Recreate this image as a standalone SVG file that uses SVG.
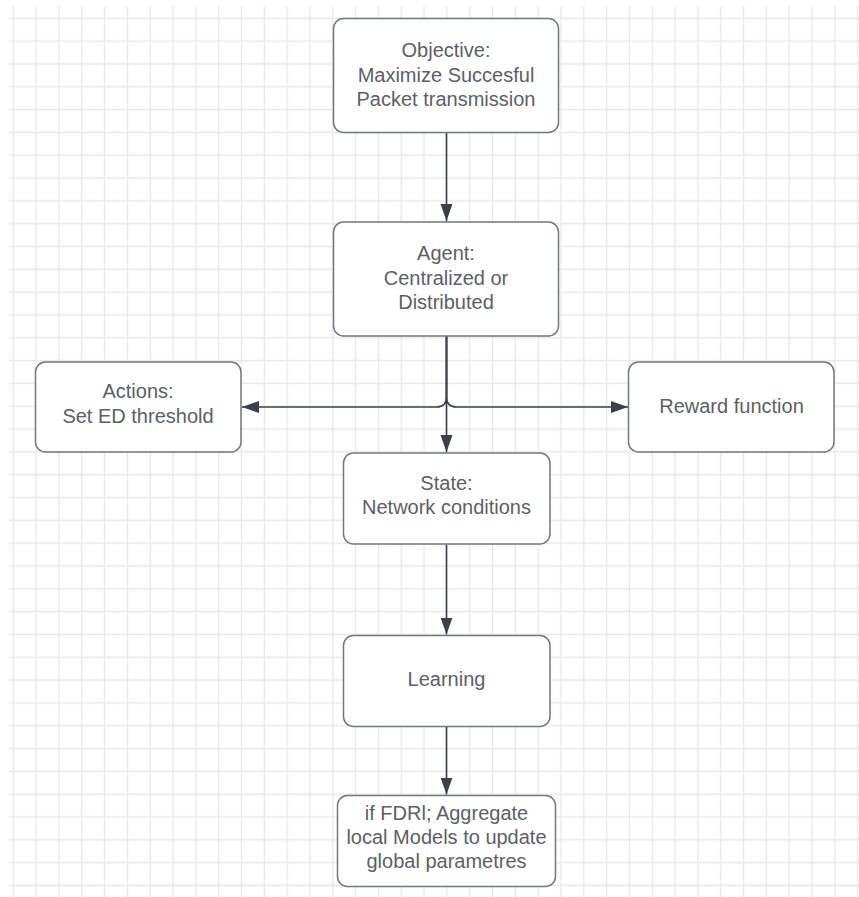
<svg xmlns="http://www.w3.org/2000/svg" width="859" height="897" viewBox="0 0 859 897">
  <style>
    .box { fill: #ffffff; stroke: #72777f; stroke-width: 1.5; }
    .label { font-family: "Liberation Sans", Arial, sans-serif; font-size: 20px; fill: #5b6069; text-anchor: middle; }
    .wire { fill: none; stroke: #3a414a; stroke-width: 1.6; }
  </style>
  <defs>
    <pattern id="grid" patternUnits="userSpaceOnUse" x="1.89" y="6.89" width="22.82" height="22.82">
      <path d="M11.41 0 V22.82 M0 11.41 H22.82" stroke="#e8e8e8" stroke-width="1.4" fill="none"/>
    </pattern>
    <marker id="arrow" markerUnits="userSpaceOnUse" markerWidth="18" markerHeight="13" refX="17" refY="6" orient="auto">
      <path d="M0 0 L17 6 L0 12 Z" fill="#3a414a"/>
    </marker>
  </defs>

  <!-- background and grid -->
  <rect x="0" y="0" width="859" height="897" fill="#ffffff"/>
  <rect x="9" y="6" width="850" height="891" fill="url(#grid)"/>

  <!-- connectors -->
  <g id="connectors">
    <path class="wire" d="M446.5 133 V221" marker-end="url(#arrow)"/>
    <path class="wire" d="M446.5 336 V452" marker-end="url(#arrow)"/>
    <path class="wire" d="M446.5 336 V397 Q446.5 407 436.5 407 H242" marker-end="url(#arrow)"/>
    <path class="wire" d="M446.5 336 V397 Q446.5 407 456.5 407 H628" marker-end="url(#arrow)"/>
    <path class="wire" d="M446.5 544.5 V634.5" marker-end="url(#arrow)"/>
    <path class="wire" d="M446.5 727 V794.5" marker-end="url(#arrow)"/>
  </g>

  <!-- nodes -->
  <g id="objective">
    <rect class="box" x="333.5" y="18.5" width="225" height="114" rx="10"/>
    <text class="label" x="446" y="56.7">Objective:</text>
    <text class="label" x="446" y="81.7">Maximize Succesful</text>
    <text class="label" x="446" y="106">Packet transmission</text>
  </g>

  <g id="agent">
    <rect class="box" x="333.5" y="222" width="225" height="114" rx="10"/>
    <text class="label" x="446" y="260">Agent:</text>
    <text class="label" x="446" y="284.5">Centralized or</text>
    <text class="label" x="446" y="308.5">Distributed</text>
  </g>

  <g id="actions">
    <rect class="box" x="35.5" y="362" width="205.5" height="90" rx="10"/>
    <text class="label" x="138" y="398.3">Actions:</text>
    <text class="label" x="138" y="422.7">Set ED threshold</text>
  </g>

  <g id="reward">
    <rect class="box" x="628.5" y="362" width="205.5" height="90" rx="10"/>
    <text class="label" x="731.5" y="412.5">Reward function</text>
  </g>

  <g id="state">
    <rect class="box" x="343.5" y="453" width="206.5" height="91" rx="10"/>
    <text class="label" x="446.5" y="490">State:</text>
    <text class="label" x="446.5" y="513.5">Network conditions</text>
  </g>

  <g id="learning">
    <rect class="box" x="343.5" y="635.5" width="206.5" height="91" rx="10"/>
    <text class="label" x="446.5" y="685.5">Learning</text>
  </g>

  <g id="aggregation">
    <rect class="box" x="337.5" y="795.5" width="218" height="91" rx="10"/>
    <text class="label" x="446.5" y="820">if FDRl; Aggregate</text>
    <text class="label" x="446.5" y="844">local Models to update</text>
    <text class="label" x="446.5" y="868.3">global parametres</text>
  </g>
</svg>
